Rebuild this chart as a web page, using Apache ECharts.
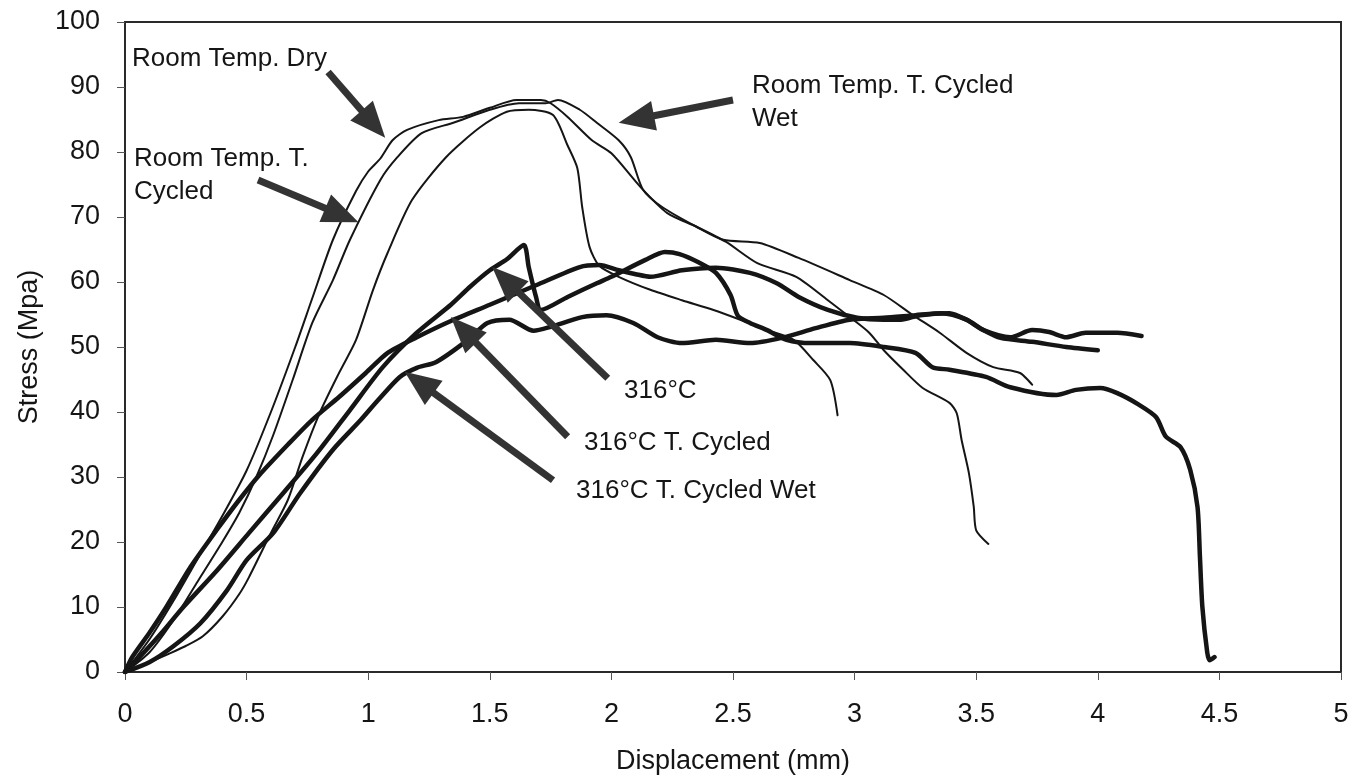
<!DOCTYPE html>
<html>
<head>
<meta charset="utf-8">
<script src="https://cdn.jsdelivr.net/npm/echarts@6/dist/echarts.min.js"></script>
<style>
  html, body { margin: 0; padding: 0; background: #fff; }
  #chart { width: 1361px; height: 781px; }
</style>
</head>
<body>
<div id="chart"></div>
<script>
// Stress–displacement curves, [displacement mm, stress MPa]
const roomTempDry = [
  [0,0],[0.1,5],[0.2,11],[0.3,17.5],[0.4,24],[0.5,31],[0.6,40],[0.7,50],[0.77,57.5],
  [0.855,66.5],[0.95,74],[1.0,77],[1.05,79],[1.1,81.8],[1.16,83.4],[1.29,84.9],[1.39,85.4],
  [1.5,86.8],[1.61,88],[1.71,88],[1.75,87.5],[1.82,85.4],[1.92,81.8],[2.0,79.8],[2.12,74.6],
  [2.23,70.6],[2.35,68.5],[2.47,66.2],[2.6,62.9],[2.76,60.8],[2.89,57.2],[2.98,54.6],
  [3.06,52.2],[3.12,49.5],[3.2,46.5],[3.28,43.7],[3.39,41.4],[3.42,39.8],[3.44,35.7],
  [3.47,30.6],[3.49,25.4],[3.5,21.8],[3.55,19.7]
];
const roomTempCycledWet = [
  [0,0],[0.1,3],[0.2,8],[0.3,14],[0.4,20],[0.47,24.5],[0.54,30],[0.61,36.5],[0.69,45],
  [0.77,53.7],[0.855,60.3],[0.925,66.5],[1.05,75.7],[1.12,79.2],[1.22,82.9],[1.35,84.5],
  [1.5,86.5],[1.62,87.5],[1.73,87.5],[1.78,88],[1.87,86.5],[1.94,84.5],[2.03,81.8],
  [2.08,79.2],[2.13,74.2],[2.21,71.5],[2.35,68.5],[2.46,66.5],[2.61,66],[2.77,63.7],
  [2.98,60.3],[3.12,58],[3.24,54.9],[3.35,52.2],[3.46,49.1],[3.57,46.9],[3.68,46],[3.73,44.2]
];
const roomTempCycled = [
  [0,0],[0.1,1.5],[0.18,2.8],[0.25,4],[0.32,5.5],[0.4,8.5],[0.47,12],[0.51,14.6],[0.6,21.4],
  [0.67,26.5],[0.73,33.1],[0.8,39.8],[0.88,46],[0.95,51.1],[1.02,58.8],[1.08,64.5],
  [1.18,72.6],[1.32,79.2],[1.46,83.8],[1.57,86.2],[1.66,86.5],[1.76,85.7],[1.82,81],
  [1.86,77.5],[1.88,71.5],[1.91,65.4],[1.95,62.5],[2.03,60.8],[2.16,58.8],[2.29,57.2],
  [2.42,55.7],[2.53,54.2],[2.64,52.6],[2.75,51.1],[2.83,48],[2.9,44.9],[2.93,39.5]
];
const hot316 = [
  [0,0],[0.06,2.3],[0.15,6],[0.24,10],[0.38,15.7],[0.51,21.4],[0.65,27.5],[0.79,33.7],
  [0.925,40.3],[1.06,46.9],[1.2,52.2],[1.34,56.5],[1.42,59.3],[1.5,61.8],[1.57,63.5],[1.64,65.7],
  [1.66,62.3],[1.69,57.7],[1.71,55.7],[1.82,57.7],[1.94,59.8],[2.0,60.8],[2.14,63.4],
  [2.22,64.6],[2.28,64.3],[2.36,63],[2.43,61.4],[2.49,58],[2.52,54.8],[2.57,53.7],
  [2.64,52.6],[2.72,51.1],[2.82,50.6],[2.98,50.6],[3.12,50],[3.25,49.1],[3.32,46.9],
  [3.39,46.5],[3.54,45.4],[3.64,43.8],[3.83,42.6],[3.91,43.4],[4.01,43.7],[4.08,42.9],
  [4.17,41.1],[4.24,39.2],[4.28,36.2],[4.34,34.6],[4.38,31.1],[4.41,25.4],[4.42,17.7],
  [4.43,10],[4.45,3],[4.46,1.8],[4.48,2.3]
];
const hot316Cycled = [
  [0,0],[0.03,2.3],[0.1,6],[0.17,10],[0.27,16.2],[0.38,22],[0.47,26.5],[0.55,30.2],
  [0.67,35],[0.77,38.8],[0.88,42.3],[0.99,46],[1.08,49.1],[1.2,51.5],[1.34,54],[1.5,56.5],
  [1.69,59.5],[1.87,62.3],[1.95,62.6],[2.03,61.8],[2.1,61.2],[2.16,60.8],[2.29,61.8],
  [2.43,62.2],[2.57,61.4],[2.68,59.8],[2.77,57.7],[2.89,55.7],[3.01,54.5],[3.12,54.2],
  [3.19,54.2],[3.27,54.9],[3.39,55.2],[3.46,54.2],[3.53,52.6],[3.64,51.5],[3.73,52.6],
  [3.8,52.3],[3.87,51.5],[3.95,52.2],[4.08,52.2],[4.18,51.7]
];
const hot316CycledWet = [
  [0,0],[0.1,1.5],[0.2,4],[0.31,7.5],[0.42,12.6],[0.5,17.2],[0.61,21.4],[0.72,27.5],
  [0.855,34.2],[0.97,38.8],[1.04,41.8],[1.13,45.4],[1.2,46.8],[1.28,47.7],[1.41,51.1],
  [1.49,53.7],[1.58,54.2],[1.68,52.5],[1.75,53.1],[1.88,54.6],[1.98,54.9],[2.09,53.7],
  [2.19,51.5],[2.29,50.6],[2.43,51.1],[2.57,50.6],[2.7,51.4],[2.84,52.9],[2.98,54.2],
  [3.12,54.5],[3.25,54.9],[3.36,55.2],[3.46,54.2],[3.53,52.6],[3.6,51.4],[3.73,50.8],
  [3.87,50],[4.0,49.5]
];

// Callout arrows: [tail, tip] in data units
const arrowRoomDry = [[0.835, 92.3], [1.07, 82.2]];
const arrowRoomCycled = [[0.547, 75.7], [0.96, 69.2]];
const arrowRoomCycledWet = [[2.50, 88.0], [2.03, 84.5]];
const arrow316 = [[1.985, 45.2], [1.51, 62.3]];
const arrow316Cycled = [[1.82, 36.2], [1.34, 54.6]];
const arrow316CycledWet = [[1.76, 29.5], [1.15, 46.2]];

const FONT = "'Liberation Sans', Arial, sans-serif";
const INK = '#151515';

const chart = echarts.init(document.getElementById('chart'), null, { renderer: 'canvas' });

function curve(name, data, width) {
  return {
    name, type: 'line', data, showSymbol: false, symbol: 'none',
    smooth: 0.25, silent: true, animation: false,
    lineStyle: { color: INK, width, cap: 'round', join: 'round' }
  };
}

const option = {
  animation: false,
  backgroundColor: '#fff',
  grid: { left: 125, right: 20, top: 22, bottom: 109, show: true, borderColor: '#2a2a2a', borderWidth: 2 },
  xAxis: {
    type: 'value', min: 0, max: 5, interval: 0.5,
    name: 'Displacement (mm)', nameLocation: 'middle', nameGap: 76,
    nameTextStyle: { fontFamily: FONT, fontSize: 27, color: INK },
    axisLine: { show: true, lineStyle: { color: '#2a2a2a', width: 2 } },
    axisTick: { show: true, length: 8, lineStyle: { color: '#555', width: 1 } },
    axisLabel: { fontFamily: FONT, fontSize: 27, color: INK, margin: 29 },
    splitLine: { show: false }
  },
  yAxis: {
    type: 'value', min: 0, max: 100, interval: 10,
    name: 'Stress (Mpa)', nameLocation: 'middle', nameGap: 82,
    nameTextStyle: { fontFamily: FONT, fontSize: 27, color: INK },
    axisLine: { show: true, lineStyle: { color: '#2a2a2a', width: 2 } },
    axisTick: { show: true, length: 8, lineStyle: { color: '#555', width: 1 } },
    axisLabel: { fontFamily: FONT, fontSize: 27, color: INK, margin: 25 },
    splitLine: { show: false }
  },
  series: [
    curve('Room Temp. Dry', roomTempDry, 2),
    curve('Room Temp. T. Cycled Wet', roomTempCycledWet, 2),
    curve('Room Temp. T. Cycled', roomTempCycled, 2),
    curve('316°C', hot316, 4.5),
    curve('316°C T. Cycled', hot316Cycled, 4.5),
    curve('316°C T. Cycled Wet', hot316CycledWet, 4.5)
  ]
};
chart.setOption(option);

// Arrow heads are centred on the line end, so pull the end back by half a head length
const HEAD = [30, 36];
function arrowSegment(pair) {
  const a = chart.convertToPixel({ gridIndex: 0 }, pair[0]);
  const b = chart.convertToPixel({ gridIndex: 0 }, pair[1]);
  const dx = b[0] - a[0], dy = b[1] - a[1];
  const len = Math.hypot(dx, dy);
  const back = HEAD[1] / 2;
  const e = [b[0] - dx / len * back, b[1] - dy / len * back];
  const end = chart.convertFromPixel({ gridIndex: 0 }, e);
  return [{ coord: pair[0] }, { coord: end }];
}
const arrows = [arrowRoomDry, arrowRoomCycled, arrowRoomCycledWet, arrow316, arrow316Cycled, arrow316CycledWet];

function label(text, x, y) {
  return {
    type: 'text', left: x, top: y, silent: true,
    style: { text, fill: INK, font: `26px ${FONT}`, lineHeight: 33 }
  };
}

chart.setOption({
  series: [{
    name: 'Room Temp. Dry',
    markLine: {
      silent: true, animation: false,
      symbol: ['none', 'triangle'], symbolSize: HEAD,
      label: { show: false }, emphasis: { disabled: true },
      lineStyle: { color: '#333', width: 7, type: 'solid', cap: 'butt' },
      itemStyle: { color: '#333' },
      data: arrows.map(arrowSegment)
    }
  }],
  graphic: [
    label('Room Temp. Dry', 132, 42),
    label('Room Temp. T.\nCycled', 134, 142),
    label('Room Temp. T. Cycled\nWet', 752, 69),
    label('316°C', 624, 374),
    label('316°C T. Cycled', 584, 426),
    label('316°C T. Cycled Wet', 576, 474)
  ]
});
</script>
</body>
</html>
